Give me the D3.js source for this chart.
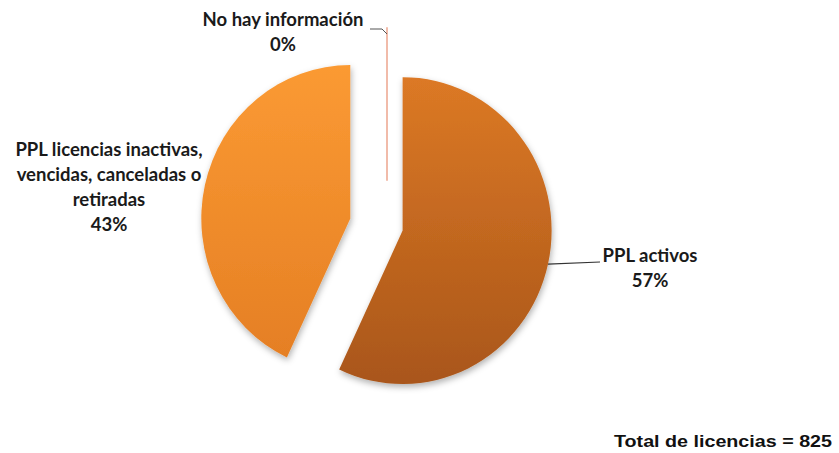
<!DOCTYPE html>
<html><head><meta charset="utf-8">
<script src="https://cdn.jsdelivr.net/npm/d3@7"></script>
<style>html,body{margin:0;padding:0;background:#fff;}svg{display:block;}</style>
</head><body>
<svg id="chart" width="839" height="453"></svg>
<script>
const categories = ["PPL activos", "PPL licencias inactivas, vencidas, canceladas o retiradas", "No hay información"];
const values = [57, 43, 0];
const labelLines = [["PPL activos", "57%"], ["PPL licencias inactivas,", "vencidas, canceladas o", "retiradas", "43%"], ["No hay información", "0%"]];
const totalText = "Total de licencias = 825";

const svg = d3.select("#chart");
const cx = 387, cy = 227, r = 149, yScale = 1.03;
const explode = [16, 37.6, 45];
const labelPos = [[650, 262], [109, 156], [283, 26]];
const lineH = 25;

const defs = svg.append("defs");
const g1 = defs.append("linearGradient").attr("id", "gA").attr("x1", 0).attr("y1", 0).attr("x2", 0).attr("y2", 1);
g1.append("stop").attr("offset", "0%").attr("stop-color", "#dc7925");
g1.append("stop").attr("offset", "100%").attr("stop-color", "#a9561a");
const g2 = defs.append("linearGradient").attr("id", "gB").attr("x1", 0).attr("y1", 0).attr("x2", 0).attr("y2", 1);
g2.append("stop").attr("offset", "0%").attr("stop-color", "#fb9a33");
g2.append("stop").attr("offset", "100%").attr("stop-color", "#e57f24");
const f = defs.append("filter").attr("id", "sh").attr("x", "-20%").attr("y", "-20%").attr("width", "140%").attr("height", "140%");
f.append("feDropShadow").attr("dx", 1).attr("dy", 3).attr("stdDeviation", 3).attr("flood-color", "#000").attr("flood-opacity", 0.3);

const fills = ["url(#gA)", "url(#gB)", "none"];
const pie = d3.pie().sort(null).value(d => d)(values);
const arc = d3.arc().innerRadius(0).outerRadius(r);

const root = svg.append("g").attr("transform", `translate(${cx},${cy}) scale(1,${yScale})`);
pie.forEach((p, i) => {
  const mid = (p.startAngle + p.endAngle) / 2;
  const dx = Math.sin(mid) * explode[i], dy = -Math.cos(mid) * explode[i];
  const path = root.append("path").attr("d", arc(p))
    .attr("transform", `translate(${dx},${dy})`)
    .attr("fill", fills[i]);
  if (values[i] === 0) {
    path.attr("stroke", "#eeab95").attr("stroke-width", 1.6).attr("vector-effect", "non-scaling-stroke");
  } else {
    path.attr("filter", "url(#sh)");
  }
});

const font = "Lato, 'Open Sans', sans-serif";
labelLines.forEach((lines, i) => {
  const t = svg.append("text").attr("text-anchor", "middle")
    .attr("font-family", font).attr("font-weight", "bold").attr("font-size", 18.5).attr("fill", "#1a1a1a");
  lines.forEach((s, k) => {
    t.append("tspan").attr("x", labelPos[i][0]).attr("y", labelPos[i][1] + k * lineH).text(s);
  });
});

// leader line for PPL activos
{
  const p = pie[0];
  const mid = (p.startAngle + p.endAngle) / 2;
  const x0 = cx + Math.sin(mid) * (r + explode[0]);
  const y0 = cy + (-Math.cos(mid) * (r + explode[0])) * yScale;
  svg.append("path").attr("d", `M${x0},${y0}L600,262`).attr("stroke", "#333").attr("stroke-width", 1.2).attr("fill", "none");
}
// leader for No hay información
{
  svg.append("path").attr("d", `M370,29L382,29L${cx},34`).attr("stroke", "#555").attr("stroke-width", 1).attr("fill", "none");
}

svg.append("text").attr("x", 832).attr("y", 447).attr("text-anchor", "end")
  .attr("font-family", "'Liberation Sans', Arial, sans-serif").attr("font-weight", "bold").attr("font-size", 17)
  .attr("textLength", 218).attr("lengthAdjust", "spacingAndGlyphs")
  .attr("fill", "#111").text(totalText);
</script>
</body></html>
